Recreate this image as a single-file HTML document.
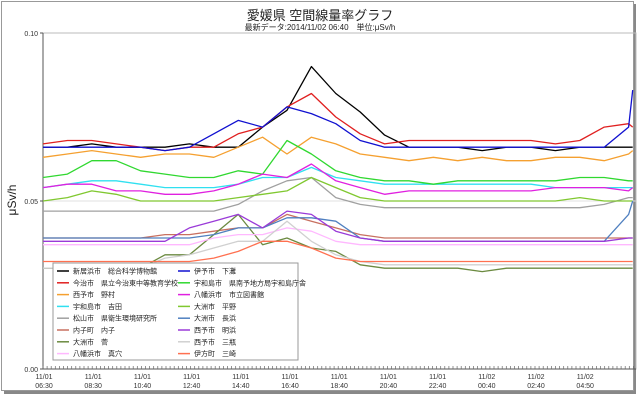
<!DOCTYPE html>
<html><head><meta charset="utf-8"><style>
body{margin:0;background:#fff;}
svg{display:block;font-family:"Liberation Sans","Noto Sans CJK JP",sans-serif;}
</style></head><body>
<svg id="chart" width="640" height="400" viewBox="0 0 640 400">
<rect x="4" y="4" width="632" height="390" fill="#888"/>
<rect x="1.5" y="1.5" width="632" height="389" fill="#fff" stroke="#999"/>
<text x="320" y="20" text-anchor="middle" font-size="13" fill="#222">愛媛県 空間線量率グラフ</text>
<text x="320" y="30" text-anchor="middle" font-size="8" fill="#222">最新データ:2014/11/02 06:40　単位:μSv/h</text>
<text transform="translate(16,200) rotate(-90)" text-anchor="middle" font-size="12" fill="#222">μSv/h</text>
<g id="plot"></g>
<g id="legend"></g>
</svg>
<script>
const hours=[0,1,2,3,4,5,6,7,8,9,10,11,12,13,14,15,16,17,18,19,20,21,22,23,24,24.17];
const yTicks=[0,0.05,0.10];
const yTickLabels=["0.00","0.05","0.10"];
const xTickIdx=[0,12,24,36,48,60,72,84,96,108,120,132];
const xTickLabels=[["11/01","06:30"],["11/01","08:30"],["11/01","10:40"],["11/01","12:40"],["11/01","14:40"],["11/01","16:40"],["11/01","18:40"],["11/01","20:40"],["11/01","22:40"],["11/02","00:40"],["11/02","02:40"],["11/02","04:50"]];
const names=["新居浜市　総合科学博物館","今治市　県立今治東中等教育学校","西予市　野村","宇和島市　吉田","松山市　県衛生環境研究所","内子町　内子","大洲市　菅","八幡浜市　真穴","伊予市　下灘","宇和島市　県南予地方局宇和島庁舎","八幡浜市　市立図書館","大洲市　平野","大洲市　長浜","西予市　明浜","西予市　三瓶","伊方町　三崎"];
const colors=["#000000","#e02020","#f5a030","#30e0f0","#a0a0a0","#c87060","#6b8a40","#ffb8ff","#1010d0","#30d830","#e020e0","#80c830","#5080c0","#9a3ad8","#d0d0d0","#ff7050"];
const s0=[.066,.066,.067,.066,.066,.066,.067,.066,.066,.072,.077,.090,.082,.0765,.0696,.066,.066,.066,.065,.066,.066,.065,.066,.066,.066,.066];
const s1=[.067,.068,.068,.067,.066,.065,.066,.066,.070,.072,.078,.082,.075,.070,.067,.068,.068,.068,.068,.068,.068,.067,.068,.072,.073,.072];
const s2=[.063,.064,.065,.064,.063,.064,.064,.063,.066,.069,.064,.069,.067,.064,.063,.062,.063,.062,.063,.062,.062,.063,.063,.062,.064,.065];
const s3=[.054,.055,.056,.056,.055,.054,.054,.054,.055,.057,.057,.060,.057,.056,.055,.055,.055,.055,.055,.055,.055,.054,.054,.054,.054,.054];
const s4=[.047,.047,.047,.047,.047,.047,.047,.047,.049,.053,.056,.057,.051,.049,.048,.048,.048,.048,.048,.048,.048,.048,.048,.049,.051,.051];
const s5=[.039,.039,.039,.039,.039,.040,.040,.041,.042,.042,.046,.044,.042,.040,.039,.039,.039,.039,.039,.039,.039,.039,.039,.039,.039,.039];
const s6=[.030,.030,.030,.030,.030,.034,.034,.040,.046,.037,.039,.036,.035,.031,.030,.030,.030,.030,.029,.030,.030,.030,.030,.030,.030,.030];
const s7=[.037,.037,.037,.037,.037,.037,.037,.039,.040,.040,.042,.041,.038,.037,.037,.037,.037,.037,.037,.037,.037,.037,.037,.037,.037,.037];
const s8=[.066,.066,.066,.066,.066,.065,.066,.070,.074,.072,.078,.076,.073,.068,.066,.066,.066,.066,.066,.066,.066,.066,.066,.066,.072,.083];
const s9=[.057,.058,.062,.062,.059,.058,.057,.057,.059,.058,.068,.064,.059,.057,.056,.056,.055,.056,.056,.056,.056,.056,.057,.057,.056,.056];
const s10=[.054,.055,.055,.053,.053,.052,.052,.053,.055,.058,.057,.061,.056,.054,.052,.053,.053,.053,.053,.053,.053,.054,.054,.054,.053,.054];
const s11=[.050,.051,.053,.052,.050,.050,.050,.050,.051,.052,.053,.057,.054,.051,.050,.050,.050,.050,.050,.050,.050,.050,.051,.050,.050,.050];
const s12=[.039,.039,.039,.039,.039,.039,.039,.040,.042,.042,.045,.045,.044,.039,.038,.038,.038,.038,.038,.038,.038,.038,.038,.038,.046,.050];
const s13=[.038,.038,.038,.038,.038,.038,.042,.044,.046,.042,.047,.046,.041,.039,.038,.038,.038,.038,.038,.038,.038,.038,.038,.038,.039,.039];
const s14=[.030,.030,.030,.030,.030,.033,.034,.036,.038,.038,.044,.038,.034,.032,.031,.031,.031,.031,.031,.031,.031,.031,.031,.031,.031,.031];
const s15=[.032,.032,.032,.032,.032,.032,.032,.033,.035,.038,.038,.036,.033,.032,.032,.032,.032,.032,.032,.032,.032,.032,.032,.032,.032,.032];
const series=[s0,s1,s2,s3,s4,s5,s6,s7,s8,s9,s10,s11,s12,s13,s14,s15];
const NS="http://www.w3.org/2000/svg";
const X0=43,X1=636,Y0=369,Y1=33,PXH=24.4,TICK=4.1;
const xS=h=>X0+h*PXH;
const yS=v=>Y0-(v/0.1)*(Y0-Y1);
function mk(tag,attrs,parent){const e=document.createElementNS(NS,tag);for(const k in attrs)e.setAttribute(k,attrs[k]);parent.appendChild(e);return e;}
const plot=document.getElementById('plot');
let e;
e=mk('line',{x1:X0,y1:yS(0.05),x2:X1,y2:yS(0.05),stroke:'#e0e0e0'},plot);


e=mk('rect',{x:X0,y:Y1,width:X1-X0,height:Y0-Y1,fill:'none',stroke:'#bbb'},plot);


e=mk('line',{x1:X0,y1:Y1,x2:X0,y2:Y0,stroke:'#555'},plot);


e=mk('line',{x1:X0,y1:Y0,x2:X1,y2:Y0,stroke:'#555'},plot);


yTicks.forEach((v,i)=>{
  const t=mk('text',{x:X0-5,y:yS(v)+3,'text-anchor':'end','font-size':7,fill:'#333'},plot);
  t.textContent=yTickLabels[i];
  
  
  const l=mk('line',{x1:X0-3,y1:yS(v),x2:X0,y2:yS(v),stroke:'#555'},plot);
  
  
});
let minor='';
for(let x=X0;x<=X1;x+=TICK)minor+=`M${x.toFixed(1)},${Y0}v-3`;
e=mk('path',{d:minor,stroke:'#666','stroke-width':0.7,fill:'none'},plot);


xTickIdx.forEach((idx,i)=>{
  const x=X0+idx*TICK+1;
  const t=mk('text',{x:x,y:Y0+10,'text-anchor':'middle','font-size':7,fill:'#333'},plot);
  
  
  const a=mk('tspan',{x:x,dy:0},t);a.textContent=xTickLabels[i][0];
  const b=mk('tspan',{x:x,dy:9},t);b.textContent=xTickLabels[i][1];
});
series.forEach((s,si)=>{
  const d=s.map((v,i)=>(i?'L':'M')+xS(hours[i]).toFixed(1)+','+yS(v).toFixed(1)).join('');
  const p=mk('path',{d:d,stroke:colors[si],'stroke-width':1.3,fill:'none','stroke-linejoin':'round'},plot);
  
  
});
const lg=document.getElementById('legend');
e=mk('rect',{x:53,y:263,width:245,height:97,fill:'#fff',stroke:'#999'},lg);


names.forEach((n,i)=>{
  const col=i<8?0:1,row=i%8;
  const x=col?178:57,y=271+row*11.8;
  const l=mk('line',{x1:x,y1:y,x2:x+12,y2:y,stroke:colors[i],'stroke-width':1.5},lg);
  
  
  const t=mk('text',{x:x+16,y:y+2.5,'font-size':7,fill:'#222'},lg);
  t.textContent=n;
  
  
});
</script>
</body></html>
